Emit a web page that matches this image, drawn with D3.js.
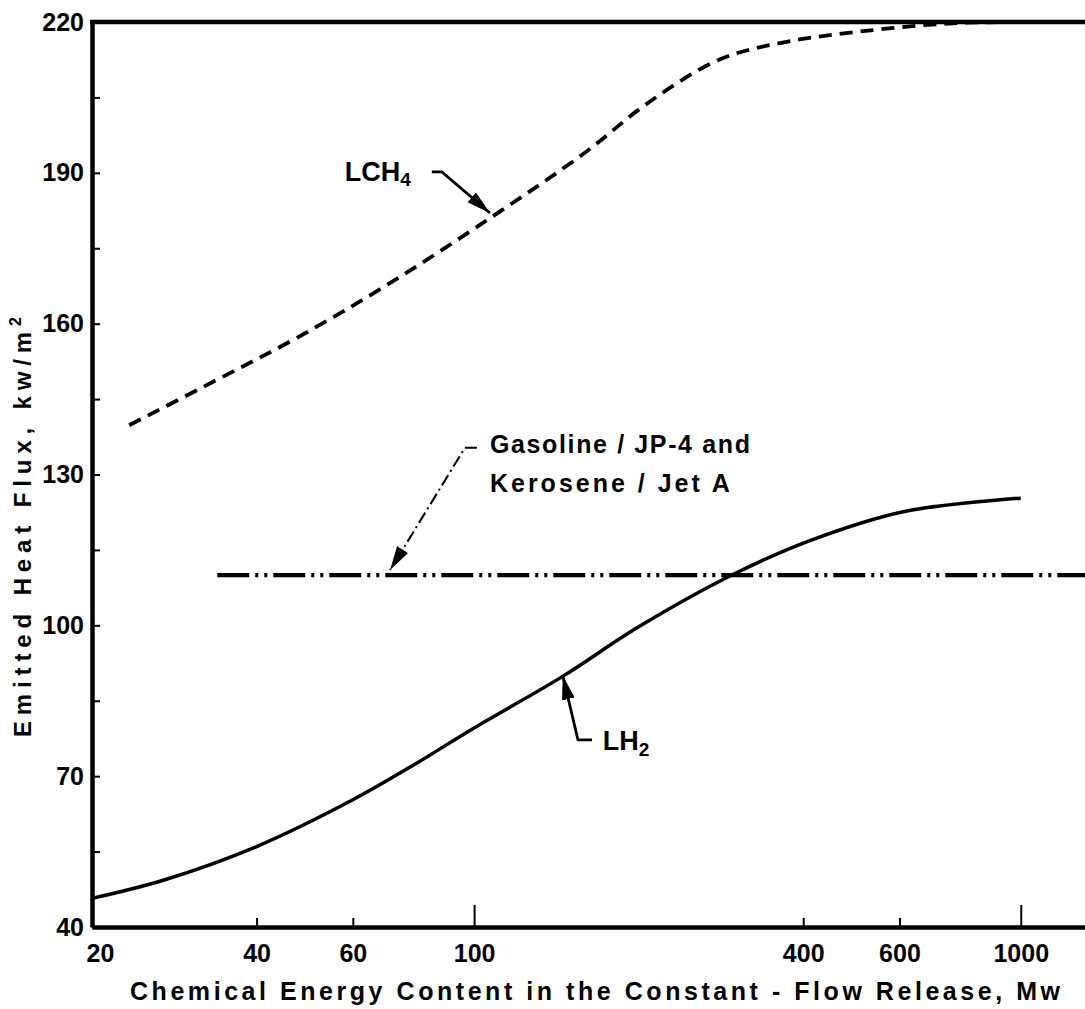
<!DOCTYPE html>
<html>
<head>
<meta charset="utf-8">
<script src="https://cdn.jsdelivr.net/npm/d3@7"></script>
<style>
  body { margin: 0; background: #fff; }
  svg text { font-family: "Liberation Sans", Arial, sans-serif; font-weight: bold; fill: #000; }
</style>
</head>
<body>
<div id="chart"></div>
<script>
// tick values
const xTicks = [20, 40, 60, 100, 400, 600, 1000];
const xLongTicks = [100, 1000];
const yTicks = d3.range(40, 221, 15);
const yLabels = [40, 70, 100, 130, 160, 190, 220];

// LH2 (solid)
const lh2Energy = [20, 27, 40, 60, 78, 100, 145, 200, 300, 415, 610, 1000];
const lh2Flux = [45.7, 49.3, 56, 65.3, 72.4, 79.6, 89.8, 99.7, 110.3, 117, 122.6, 125.3];

// LCH4 (dashed)
const lch4Energy = [23.4, 33.8, 47.8, 70, 108, 159, 208, 282, 375, 508, 711, 915, 1400];
const lch4Flux = [139.8, 148.8, 157.4, 168, 181.3, 193.9, 203.9, 212.6, 216.1, 218.1, 219.6, 220, 220];

// Gasoline/JP-4 and Kerosene/Jet A (dash-dot-dot)
const gasEnergy = [33.9, 1400];
const gasFlux = [110, 110];

const width = 1085, height = 1009;

const svg = d3.select("#chart").append("svg")
  .attr("width", width)
  .attr("height", height);

// log x scale, runs past the right edge of the picture
const x = d3.scaleLog()
  .domain([20, 1350])
  .range([92, 1092]);
const y = d3.scaleLinear()
  .domain([40, 220])
  .range([927, 22]);

// arrowhead
svg.append("defs").append("marker")
  .attr("id", "arrow")
  .attr("viewBox", "0 0 10 10")
  .attr("refX", 10)
  .attr("refY", 5)
  .attr("markerWidth", 24)
  .attr("markerHeight", 24)
  .attr("markerUnits", "userSpaceOnUse")
  .attr("orient", "auto")
  .append("path")
  .attr("d", "M0,2.3 L10,5 L0,7.7 Z")
  .attr("fill", "#000");

// x axis
const xAxis = svg.append("g")
  .attr("transform", "translate(0," + y(40) + ")")
  .call(d3.axisBottom(x)
    .tickValues(xTicks)
    .tickSizeInner(-9)
    .tickSizeOuter(0)
    .tickFormat(d3.format("d")));
xAxis.select(".domain").attr("stroke-width", 4.5);
xAxis.selectAll(".tick line")
  .attr("stroke-width", 2)
  .attr("y2", d => xLongTicks.includes(d) ? -22 : -9);
xAxis.selectAll(".tick text")
  .attr("y", 35)
  .attr("dy", 0)
  .attr("dx", d => d === 20 ? 8 : 0)
  .style("font-size", "25px");

// y axis
const yAxis = svg.append("g")
  .attr("transform", "translate(" + x(20) + ",0)")
  .call(d3.axisLeft(y)
    .tickValues(yTicks)
    .tickSizeInner(-8)
    .tickSizeOuter(0)
    .tickPadding(8)
    .tickFormat(d => yLabels.includes(d) ? d : ""));
yAxis.select(".domain").attr("stroke-width", 4.5);
yAxis.selectAll(".tick line").attr("stroke-width", 2);
yAxis.selectAll(".tick text").style("font-size", "25px");

// top frame line
svg.append("line")
  .attr("x1", x(20) - 2)
  .attr("x2", width)
  .attr("y1", y(220))
  .attr("y2", y(220))
  .attr("stroke", "#000")
  .attr("stroke-width", 4.5);

const line = d3.line()
  .x(d => x(d[0]))
  .y(d => y(d[1]))
  .curve(d3.curveCatmullRom.alpha(0.5));

svg.append("path")
  .datum(d3.zip(lh2Energy, lh2Flux))
  .attr("d", line)
  .attr("fill", "none")
  .attr("stroke", "#000")
  .attr("stroke-width", 3.5);

svg.append("path")
  .datum(d3.zip(lch4Energy, lch4Flux))
  .attr("d", line)
  .attr("fill", "none")
  .attr("stroke", "#000")
  .attr("stroke-width", 3.8)
  .attr("stroke-dasharray", "13,8");

svg.append("path")
  .datum(d3.zip(gasEnergy, gasFlux))
  .attr("d", line)
  .attr("fill", "none")
  .attr("stroke", "#000")
  .attr("stroke-width", 4.2)
  .attr("stroke-dasharray", "32,6,3,6,3,6");

// annotations, placed in data units
const leader = d3.line().x(d => x(d[0])).y(d => y(d[1]));

// LCH4
svg.append("path")
  .datum([[83.7, 190.2], [87.3, 190.2], [106.9, 182]])
  .attr("d", leader)
  .attr("fill", "none")
  .attr("stroke", "#000")
  .attr("stroke-width", 2.8)
  .attr("marker-end", "url(#arrow)");
const lch4Text = svg.append("text")
  .attr("x", x(58))
  .attr("y", y(188.3))
  .style("font-size", "27px");
lch4Text.append("tspan").text("LCH");
lch4Text.append("tspan").attr("dy", 5).style("font-size", "19px").text("4");

// gasoline / kerosene
svg.append("path")
  .datum([[101.2, 135.3], [96.2, 135.3], [70.2, 111]])
  .attr("d", leader)
  .attr("fill", "none")
  .attr("stroke", "#000")
  .attr("stroke-width", 2)
  .attr("stroke-dasharray", "12,4,2,4")
  .attr("marker-end", "url(#arrow)");
svg.append("text")
  .attr("x", x(106.9))
  .attr("y", y(134.3))
  .attr("textLength", 260)
  .attr("lengthAdjust", "spacing")
  .style("font-size", "25px")
  .text("Gasoline / JP-4  and");
svg.append("text")
  .attr("x", x(106.9))
  .attr("y", y(126.5))
  .attr("textLength", 240)
  .attr("lengthAdjust", "spacing")
  .style("font-size", "25px")
  .text("Kerosene / Jet A");

// LH2
svg.append("path")
  .datum([[164.3, 77.2], [154.9, 77.2], [145.3, 90]])
  .attr("d", leader)
  .attr("fill", "none")
  .attr("stroke", "#000")
  .attr("stroke-width", 2.8)
  .attr("marker-end", "url(#arrow)");
const lh2Text = svg.append("text")
  .attr("x", x(172))
  .attr("y", y(75.2))
  .style("font-size", "27px");
lh2Text.append("tspan").text("LH");
lh2Text.append("tspan").attr("dy", 6).style("font-size", "19px").text("2");

// axis titles
svg.append("text")
  .attr("x", 130)
  .attr("y", 1000)
  .attr("textLength", 930)
  .attr("lengthAdjust", "spacing")
  .style("font-size", "25px")
  .text("Chemical  Energy  Content  in  the  Constant - Flow  Release, Mw");

const yTitle = svg.append("text")
  .attr("transform", "translate(31," + 737 + ") rotate(-90)")
  .attr("textLength", 420)
  .attr("lengthAdjust", "spacing")
  .style("font-size", "24px");
yTitle.append("tspan").text("Emitted  Heat  Flux,  kw/m");
yTitle.append("tspan").attr("dy", -10).style("font-size", "16px").text("2");
</script>
</body>
</html>
